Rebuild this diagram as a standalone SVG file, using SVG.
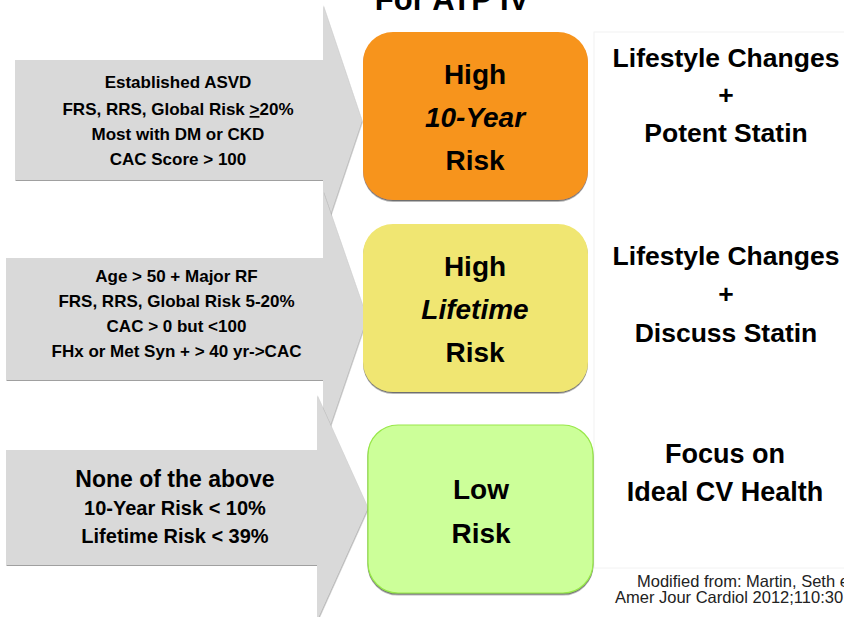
<svg xmlns="http://www.w3.org/2000/svg" width="844" height="617" viewBox="0 0 844 617">
  <defs>
    <filter id="shadow" x="-5%" y="-5%" width="110%" height="115%">
      <feDropShadow dx="0" dy="1.5" stdDeviation="0.6" flood-color="#555" flood-opacity="0.85"/>
    </filter>
    <filter id="shadowLight" x="-5%" y="-5%" width="110%" height="115%">
      <feDropShadow dx="0.5" dy="1" stdDeviation="0.5" flood-color="#777" flood-opacity="0.7"/>
    </filter>
  </defs>
  <style>
    .arrow { fill: #d9d9d9; filter: url(#shadowLight); }
    .box { filter: url(#shadow); }
    .t { font-family: "Liberation Sans", Arial, sans-serif; font-weight: bold; fill: #000; text-anchor: middle; }
    .crit { font-size: 17px; }
    .big { font-size: 28px; }
    .action { font-size: 26.5px; }
    .note { font-family: "Liberation Sans", Arial, sans-serif; font-size: 16.5px; fill: #222; }
  </style>
  <rect width="844" height="617" fill="#fff"/>

  <!-- title, clipped by the top edge -->
  <text class="t" x="452" y="10" style="font-size:31px">For ATP IV</text>

  <!-- recommendation panel -->
  <rect x="594" y="32" width="260" height="536" fill="#fff" stroke="#f2f2f2" stroke-width="1"/>

  <!-- criteria arrows -->
  <g id="connectors">
    <path id="arrow-high10" class="arrow" d="M15,60 H323 V5 L362,121 L323,237 V180 H15 Z"/>
    <path id="arrow-highlife" class="arrow" d="M6,258 H323 V191 L367,318 L323,447 V380 H6 Z"/>
    <path id="arrow-low" class="arrow" d="M6,450 H317 V395 L368,508 L317,621 V565 H6 Z"/>
  </g>

  <g id="criteria-high10">
    <text class="t crit" x="178" y="88">Established ASVD</text>
    <text class="t crit" x="178" y="115">FRS, RRS, Global Risk <tspan text-decoration="underline">&gt;</tspan>20%</text>
    <text class="t crit" x="178" y="140">Most with DM or CKD</text>
    <text class="t crit" x="178" y="165">CAC Score &gt; 100</text>
  </g>

  <g id="criteria-highlife">
    <text class="t crit" x="176.5" y="282">Age &gt; 50 + Major RF</text>
    <text class="t crit" x="176.5" y="307">FRS, RRS, Global Risk 5-20%</text>
    <text class="t crit" x="176.5" y="332">CAC &gt; 0 but &lt;100</text>
    <text class="t crit" x="176.5" y="357">FHx or Met Syn + &gt; 40 yr-&gt;CAC</text>
  </g>

  <g id="criteria-low">
    <text class="t" x="175" y="487" style="font-size:23px">None of the above</text>
    <text class="t" x="175" y="515" style="font-size:20px">10-Year Risk &lt; 10%</text>
    <text class="t" x="175" y="543" style="font-size:20px">Lifetime Risk &lt; 39%</text>
  </g>

  <!-- risk category boxes -->
  <g id="box-high10">
    <rect class="box" x="363" y="32" width="225" height="168" rx="30" fill="#f7941e"/>
    <text class="t big" x="475" y="84">High</text>
    <text class="t big" x="475" y="127" font-style="italic">10-Year</text>
    <text class="t big" x="475" y="170">Risk</text>
  </g>

  <g id="box-highlife">
    <rect class="box" x="363" y="224" width="225" height="168" rx="30" fill="#f0e672"/>
    <text class="t big" x="475" y="276">High</text>
    <text class="t big" x="475" y="319" font-style="italic">Lifetime</text>
    <text class="t big" x="475" y="362">Risk</text>
  </g>

  <g id="box-low">
    <rect class="box" x="368" y="425" width="225" height="168" rx="30" fill="#ccff99" stroke="#99e84a" stroke-width="1.2"/>
    <text class="t big" x="481" y="499">Low</text>
    <text class="t big" x="481" y="543">Risk</text>
  </g>

  <!-- recommended actions -->
  <g id="action-high10">
    <text class="t action" x="726" y="67">Lifestyle Changes</text>
    <text class="t action" x="726" y="104">+</text>
    <text class="t action" x="726" y="142">Potent Statin</text>
  </g>

  <g id="action-highlife">
    <text class="t action" x="726" y="265">Lifestyle Changes</text>
    <text class="t action" x="726" y="303">+</text>
    <text class="t action" x="726" y="342">Discuss Statin</text>
  </g>

  <g id="action-low">
    <text class="t" x="725" y="463" style="font-size:27px">Focus on</text>
    <text class="t" x="725" y="501" style="font-size:27px">Ideal CV Health</text>
  </g>

  <!-- source note, running off the right edge -->
  <g id="source">
    <text class="note" x="637" y="587">Modified from: Martin, Seth e</text>
    <text class="note" x="615" y="603">Amer Jour Cardiol 2012;110:30</text>
  </g>
</svg>
